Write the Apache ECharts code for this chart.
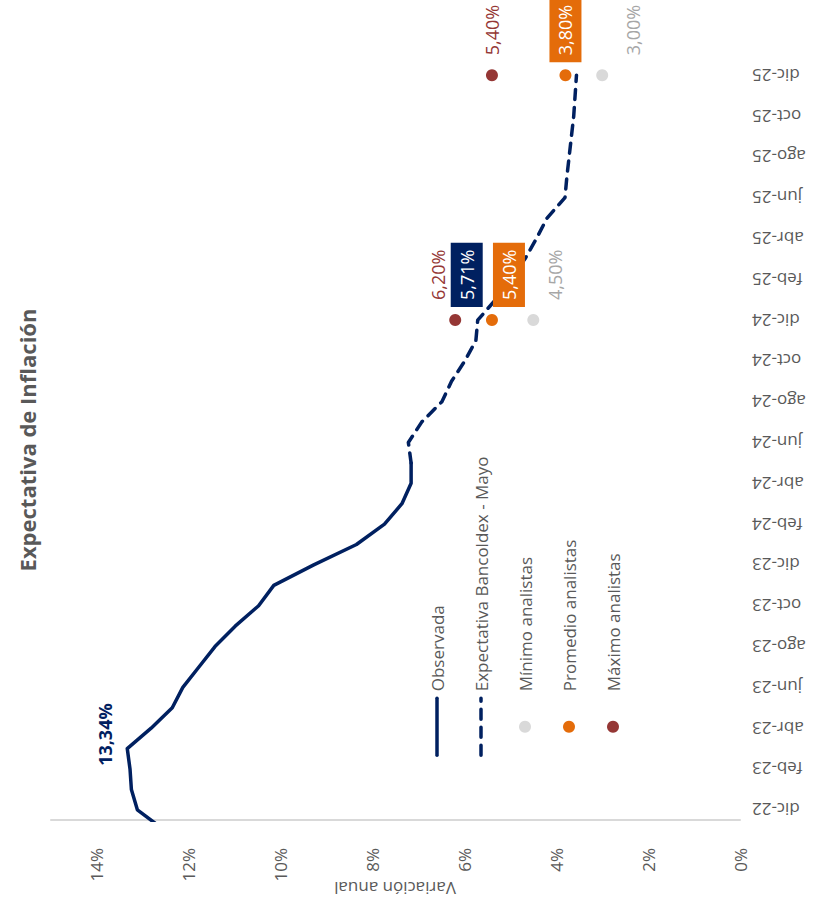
<!DOCTYPE html>
<html>
<head>
<meta charset="utf-8">
<script src="https://cdn.jsdelivr.net/npm/echarts@6/dist/echarts.min.js"></script>
<style>
  html, body { margin: 0; padding: 0; background: #ffffff; overflow: hidden; width: 840px; height: 911px; }
  #chart { position: absolute; left: 0; top: 0; width: 911px; height: 840px;
           transform-origin: 0 0; transform: translateY(911px) rotate(-90deg); }
</style>
</head>
<body>
<div id="chart"></div>
<script>
// ---- data ----
const months = ['nov-22','dic-22','ene-23','feb-23','mar-23','abr-23','may-23','jun-23','jul-23','ago-23','sep-23','oct-23','nov-23','dic-23',
  'ene-24','feb-24','mar-24','abr-24','may-24','jun-24','jul-24','ago-24','sep-24','oct-24','nov-24','dic-24',
  'ene-25','feb-25','mar-25','abr-25','may-25','jun-25','jul-25','ago-25','sep-25','oct-25','nov-25','dic-25'];
const tickLabels = ['dic-22','feb-23','abr-23','jun-23','ago-23','oct-23','dic-23','feb-24','abr-24','jun-24','ago-24','oct-24','dic-24','feb-25','abr-25','jun-25','ago-25','oct-25','dic-25'];
const observedStart = 'nov-22';
const observed = [12.53,13.12,13.25,13.28,13.34,12.82,12.36,12.13,11.78,11.43,10.99,10.48,10.15,9.28,8.35,7.74,7.36,7.16,7.16];
const expectedStart = 'may-24';
const expected = [7.16,7.22,6.93,6.49,6.28,5.99,5.75,5.71,5.32,5.00,4.68,4.43,4.20,3.81,3.77,3.72,3.67,3.62,3.59,3.56];
const analystMonths = ['dic-24','dic-25'];
const minimo = [4.50, 3.00];
const promedio = [5.40, 3.80];
const maximo = [6.20, 5.40];
const yTicks = [0,2,4,6,8,10,12,14];

// ---- helpers ----
const NAVY = '#002060', ORANGE = '#E46C0A', RED = '#953735', LGREY = '#D9D9D9', TXT = '#595959';
const FONT = 'Open Sans';
const LBL = 18;
const fmt = v => v.toFixed(2).replace('.', ',') + '%';
const idx = m => months.indexOf(m);

const obsData = observed.map((v, i) => {
  const d = { value: [idx(observedStart) + i, v] };
  if (v === Math.max(...observed)) {
    d.label = { show: true, position: 'top', distance: 13, offset: [14, 0], formatter: p => fmt(p.value[1]),
      color: NAVY, fontWeight: 'bold', fontSize: LBL, fontFamily: FONT };
  }
  return d;
});
const expData = expected.map((v, i) => {
  const m = idx(expectedStart) + i;
  const d = { value: [m, v] };
  if (months[m] === 'dic-24') {
    d.label = { show: true, position: 'right', distance: 13, offset: [0, -11], formatter: p => fmt(p.value[1]),
      color: '#ffffff', backgroundColor: NAVY, padding: [7, 7], fontSize: LBL, fontFamily: FONT };
  }
  return d;
});
function scatterData(vals, offsets) {
  return vals.map((v, i) => ({ value: [idx(analystMonths[i]), v], label: { offset: [0, offsets[i]] } }));
}

const chart = echarts.init(document.getElementById('chart'), null, { renderer: 'svg', width: 911, height: 840 });
chart.setOption({
  animation: false,
  textStyle: { fontFamily: FONT },
  grid: { left: 91, right: 65, top: 51, bottom: 100, containLabel: false },
  graphic: [
    { type: 'text', x: 471, y: 27, style: { text: 'Expectativa de Inflación', fill: TXT, font: 'bold 22px "Open Sans"', textAlign: 'center', textVerticalAlign: 'middle' } },
    { type: 'text', x: 23, y: 395, rotation: Math.PI / 2, style: { text: 'Variación anual', fill: TXT, font: '17px "Open Sans"', textAlign: 'center', textVerticalAlign: 'middle' } }
  ],
  legend: {
    orient: 'vertical', left: 149, top: 422, itemWidth: 57, itemHeight: 12, itemGap: 24,
    lineStyle: { width: 3.5 },
    textStyle: { fontSize: 17, color: TXT, fontFamily: FONT, lineHeight: 20, padding: [0, 0, 0, 2] },
    data: [
      { name: 'Observada', itemStyle: { opacity: 0 } },
      { name: 'Expectativa Bancoldex - Mayo', itemStyle: { opacity: 0 } },
      'Mínimo analistas', 'Promedio analistas', 'Máximo analistas'
    ]
  },
  xAxis: {
    type: 'value', min: 0.5, max: 37.5,
    axisLine: { show: false }, axisTick: { show: false }, splitLine: { show: false },
    axisLabel: { customValues: tickLabels.map(idx), formatter: v => months[Math.round(v)] || '',
      rotate: 90, margin: 12, fontSize: 17, color: TXT, fontFamily: FONT }
  },
  yAxis: {
    type: 'value', min: 0, max: 15, interval: 2,
    axisLine: { show: true, lineStyle: { color: LGREY, width: 2 } },
    axisTick: { show: false }, splitLine: { show: false },
    axisLabel: { customValues: yTicks, formatter: v => (yTicks.indexOf(v) >= 0 ? v + '%' : ''), margin: 28, fontSize: 17, color: TXT, fontFamily: FONT }
  },
  series: [
    { name: 'Observada', type: 'line', z: 2, data: obsData, symbol: 'circle', symbolSize: 0, showSymbol: true, showAllSymbol: true, clip: true,
      lineStyle: { color: NAVY, width: 3.5, cap: 'round', join: 'round' }, itemStyle: { color: NAVY } },
    { name: 'Expectativa Bancoldex - Mayo', type: 'line', z: 2, data: expData, symbol: 'circle', symbolSize: 0, showSymbol: true, showAllSymbol: true, clip: true,
      lineStyle: { color: NAVY, width: 3.5, type: [10, 8], cap: 'round', join: 'round' }, itemStyle: { color: NAVY } },
    { name: 'Mínimo analistas', type: 'scatter', z: 5, symbolSize: 12, data: scatterData(minimo, [22, 31]),
      itemStyle: { color: LGREY, opacity: 1 },
      label: { show: true, position: 'right', distance: 7, padding: [7, 7], formatter: p => fmt(p.value[1]), color: '#A6A6A6', fontSize: LBL, fontFamily: FONT } },
    { name: 'Promedio analistas', type: 'scatter', z: 5, symbolSize: 12, data: scatterData(promedio, [17, 0]),
      itemStyle: { color: ORANGE, opacity: 1 },
      label: { show: true, position: 'right', distance: 7, padding: [7, 7], formatter: p => fmt(p.value[1]), color: '#ffffff', backgroundColor: ORANGE, fontSize: LBL, fontFamily: FONT } },
    { name: 'Máximo analistas', type: 'scatter', z: 5, symbolSize: 12, data: scatterData(maximo, [-17, 0]),
      itemStyle: { color: RED, opacity: 1 },
      label: { show: true, position: 'right', distance: 7, padding: [7, 7], formatter: p => fmt(p.value[1]), color: RED, fontSize: LBL, fontFamily: FONT } }
  ]
});
</script>
</body>
</html>
